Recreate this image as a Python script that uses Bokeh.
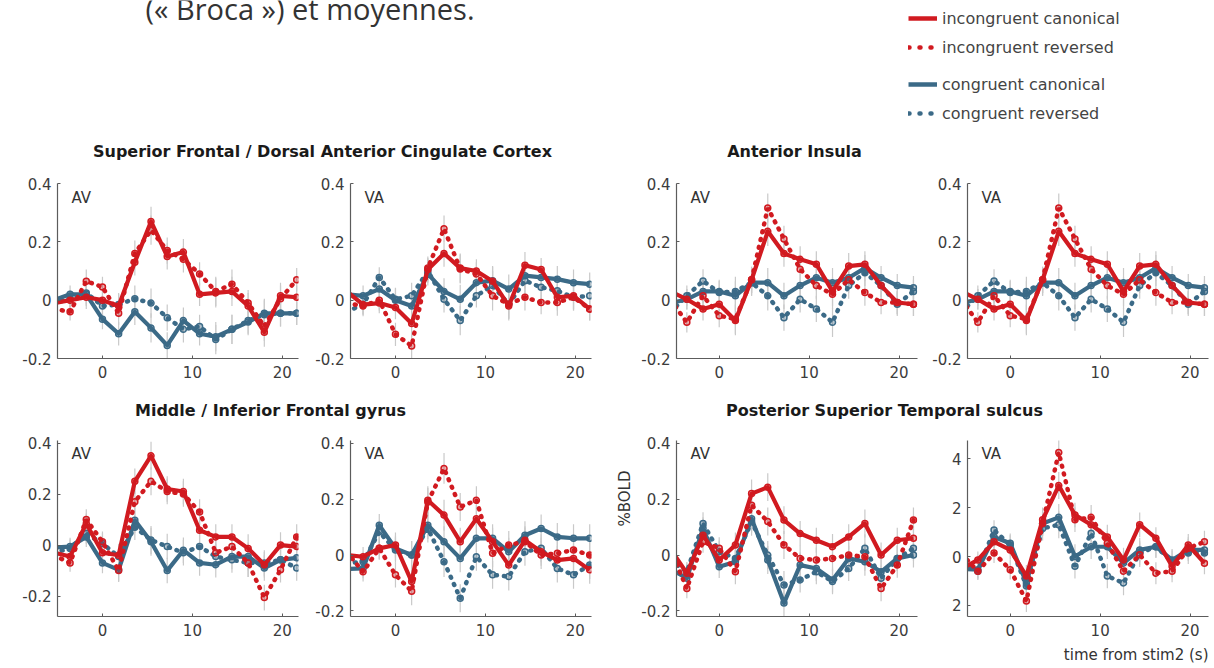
import math
from bokeh.plotting import figure
from bokeh.layouts import column, row
from bokeh.models import Range1d, FixedTicker, Label, Legend, LegendItem, Title
from bokeh.embed import file_html
from bokeh.resources import INLINE
from bokeh.core.properties import value

# ---------------- data ----------------
time_s = [-5.4, -3.6, -1.8, 0.0, 1.8, 3.6, 5.4, 7.2, 9.0, 10.8, 12.6, 14.4, 16.2, 18.0, 19.8, 21.6]
series_names = ["incongruent canonical", "incongruent reversed", "congruent canonical", "congruent reversed"]
region_titles = ["Superior Frontal / Dorsal Anterior Cingulate Cortex", "Anterior Insula",
                 "Middle / Inferior Frontal gyrus", "Posterior Superior Temporal sulcus"]
conditions = ["AV", "VA"]
x_ticks = [0, 10, 20]
y_ticks_small = [-0.2, 0, 0.2, 0.4]
y_tick_text_small = ["-0.2", "0", "0.2", "0.4"]
y_ticks_big = [-2, 0, 2, 4]
y_tick_text_big = ["2", "0", "2", "4"]

# Superior Frontal / dACC
sf_av_inc_can = [-0.01, 0.00, 0.01, 0.00, -0.02, 0.13, 0.27, 0.15, 0.165, 0.02, 0.025, 0.03, -0.02, -0.11, 0.015, 0.01]
sf_av_inc_rev = [-0.03, -0.04, 0.065, 0.045, -0.045, 0.16, 0.24, 0.17, 0.14, 0.09, 0.03, 0.055, -0.01, -0.09, 0.005, 0.07]
sf_av_con_can = [0.00, 0.02, 0.02, -0.065, -0.115, -0.04, -0.095, -0.155, -0.07, -0.115, -0.125, -0.10, -0.075, -0.045, -0.045, -0.045]
sf_av_con_rev = [-0.01, 0.005, 0.025, -0.02, -0.015, 0.005, -0.01, -0.06, -0.10, -0.09, -0.135, -0.10, -0.07, -0.05, -0.045, -0.045]
sf_av_err = [0.03, 0.03, 0.04, 0.035, 0.04, 0.045, 0.05, 0.045, 0.045, 0.04, 0.05, 0.05, 0.045, 0.05, 0.045, 0.04]

sf_va_inc_can = [0.03, -0.015, -0.01, -0.025, -0.08, 0.105, 0.16, 0.11, 0.10, 0.065, -0.02, 0.12, 0.105, 0.01, 0.015, -0.03]
sf_va_inc_rev = [-0.01, -0.02, 0.00, -0.117, -0.157, 0.11, 0.245, 0.107, 0.09, 0.015, -0.014, 0.01, -0.008, -0.008, 0.01, -0.03]
sf_va_con_can = [0.02, 0.015, 0.038, 0.0, -0.02, 0.09, 0.03, 0.003, 0.06, 0.067, 0.038, 0.084, 0.078, 0.072, 0.06, 0.055]
sf_va_con_rev = [-0.04, -0.014, 0.078, 0.003, 0.015, 0.10, 0.003, -0.07, 0.015, 0.05, -0.014, 0.067, 0.044, 0.032, 0.01, 0.015]
sf_va_err = [0.03, 0.035, 0.035, 0.04, 0.045, 0.04, 0.045, 0.05, 0.04, 0.05, 0.05, 0.045, 0.04, 0.045, 0.045, 0.04]

# Anterior Insula
ai_av_inc_can = [0.03, 0.003, -0.03, -0.014, -0.07, 0.07, 0.236, 0.16, 0.14, 0.123, 0.03, 0.117, 0.123, 0.05, -0.008, -0.014]
ai_av_inc_rev = [0.0, -0.076, 0.015, -0.053, -0.065, 0.07, 0.316, 0.21, 0.106, 0.05, 0.02, 0.07, 0.026, -0.008, -0.008, -0.014]
ai_av_con_can = [-0.01, 0.003, 0.03, 0.03, 0.015, 0.06, 0.06, 0.015, 0.05, 0.077, 0.06, 0.077, 0.11, 0.077, 0.05, 0.043]
ai_av_con_rev = [-0.04, 0.015, 0.066, 0.026, 0.03, 0.06, 0.015, -0.06, 0.003, -0.03, -0.076, 0.05, 0.094, 0.05, -0.014, 0.03]
ai_av_err = [0.03, 0.035, 0.04, 0.04, 0.05, 0.045, 0.05, 0.045, 0.045, 0.045, 0.05, 0.045, 0.045, 0.04, 0.04, 0.04]

ai_va_inc_can = [0.03, 0.003, -0.03, -0.014, -0.07, 0.07, 0.236, 0.16, 0.14, 0.123, 0.03, 0.117, 0.123, 0.05, -0.008, -0.014]
ai_va_inc_rev = [0.0, -0.076, 0.015, -0.053, -0.065, 0.07, 0.316, 0.21, 0.106, 0.05, 0.02, 0.07, 0.026, -0.008, -0.008, -0.014]
ai_va_con_can = [-0.01, 0.003, 0.03, 0.03, 0.015, 0.06, 0.06, 0.015, 0.05, 0.077, 0.06, 0.077, 0.11, 0.077, 0.05, 0.043]
ai_va_con_rev = [-0.04, 0.015, 0.066, 0.026, 0.03, 0.06, 0.015, -0.06, 0.003, -0.03, -0.076, 0.05, 0.094, 0.05, -0.014, 0.03]
ai_va_err = [0.03, 0.035, 0.04, 0.04, 0.05, 0.045, 0.05, 0.045, 0.045, 0.045, 0.05, 0.045, 0.045, 0.04, 0.04, 0.04]

# Middle / Inferior Frontal gyrus
mif_av_inc_can = [-0.03, -0.045, 0.084, -0.03, -0.04, 0.25, 0.35, 0.22, 0.21, 0.058, 0.032, 0.032, -0.013, -0.077, 0.0, -0.006]
mif_av_inc_rev = [-0.04, -0.07, 0.10, 0.013, -0.10, 0.17, 0.25, 0.21, 0.20, 0.13, -0.03, -0.006, -0.07, -0.206, -0.097, 0.032]
mif_av_con_can = [-0.01, -0.006, 0.032, -0.07, -0.097, 0.097, 0.013, -0.10, -0.02, -0.07, -0.077, -0.045, -0.045, -0.09, -0.058, -0.05]
mif_av_con_rev = [-0.03, -0.013, 0.045, 0.006, -0.045, 0.07, 0.02, -0.006, -0.03, -0.006, -0.045, -0.058, -0.07, -0.07, -0.058, -0.09]
mif_av_err = [0.03, 0.035, 0.04, 0.04, 0.045, 0.05, 0.055, 0.05, 0.05, 0.05, 0.05, 0.05, 0.055, 0.05, 0.05, 0.05]

mif_va_inc_can = [0.0, -0.006, 0.024, 0.036, -0.095, 0.196, 0.143, 0.048, 0.13, 0.048, -0.036, 0.053, 0.012, -0.018, -0.012, -0.053]
mif_va_inc_rev = [0.01, -0.06, 0.024, -0.071, -0.13, 0.19, 0.31, 0.172, 0.196, 0.006, 0.036, 0.048, 0.0, 0.006, 0.018, 0.0]
mif_va_con_can = [-0.05, -0.048, 0.107, 0.024, 0.0, 0.107, 0.048, -0.012, 0.06, 0.06, 0.012, 0.071, 0.095, 0.065, 0.06, 0.06]
mif_va_con_rev = [-0.03, -0.024, 0.083, 0.018, 0.0, 0.095, -0.024, -0.155, -0.006, -0.071, -0.077, 0.012, 0.024, -0.048, -0.071, -0.036]
mif_va_err = [0.03, 0.035, 0.04, 0.045, 0.05, 0.05, 0.055, 0.05, 0.05, 0.05, 0.05, 0.05, 0.05, 0.05, 0.05, 0.05]

# Posterior Superior Temporal sulcus
psts_av_inc_can = [0.02, -0.065, 0.071, -0.018, 0.036, 0.22, 0.243, 0.125, 0.077, 0.053, 0.03, 0.065, 0.113, 0.0, 0.053, 0.06]
psts_av_inc_rev = [0.02, -0.12, 0.048, 0.024, -0.06, 0.178, 0.12, 0.036, -0.012, -0.018, -0.012, 0.0, -0.006, -0.12, -0.036, 0.125]
psts_av_con_can = [-0.05, -0.083, 0.095, -0.042, -0.024, 0.13, -0.018, -0.172, -0.036, -0.048, -0.089, -0.012, -0.024, -0.06, -0.012, 0.0]
psts_av_con_rev = [-0.02, -0.06, 0.113, 0.012, -0.012, 0.119, 0.0, -0.107, -0.089, -0.06, -0.095, -0.048, 0.024, -0.083, -0.012, 0.024]
psts_av_err = [0.03, 0.035, 0.04, 0.04, 0.045, 0.05, 0.05, 0.05, 0.045, 0.045, 0.045, 0.045, 0.05, 0.045, 0.045, 0.045]

psts_va_inc_can = [-0.5, -0.14, 0.6, 0.27, -0.8, 1.5, 2.9, 1.7, 1.3, 0.8, -0.14, 1.3, 0.75, -0.4, 0.47, -0.27]
psts_va_inc_rev = [0.1, -0.6, 0.14, -0.54, -1.82, 1.35, 4.25, 1.5, 1.6, 0.54, -0.6, 0.07, -0.68, -0.6, 0.34, 0.6]
psts_va_con_can = [-0.5, -0.54, 0.8, 0.54, -1.08, 1.35, 1.6, 0.0, 0.4, 0.4, -0.27, 0.27, 0.4, -0.14, 0.27, 0.27]
psts_va_con_rev = [-0.3, -0.6, 1.08, 0.47, -1.2, 1.15, 1.3, -0.4, 0.95, -0.8, -1.08, 0.14, 0.4, -0.2, 0.14, 0.14]
psts_va_err = [0.3, 0.35, 0.4, 0.4, 0.45, 0.5, 0.55, 0.5, 0.5, 0.5, 0.5, 0.5, 0.45, 0.45, 0.45, 0.45]

# ---------------- style ----------------
RED = "#d11a20"
BLUE = "#3b6a87"
ERR = "#c9c9c9"
AXIS = "#5c5c5c"
FONT = "DejaVu Sans"
DOT = "1 7"

COLS = [
    dict(w=305, bl=57, br=7, xr=(-5.0, 21.8)),
    dict(w=295, bl=45, br=9, xr=(-5.0, 21.8)),
    dict(w=318, bl=76, br=1, xr=(-4.75, 22.05)),
    dict(w=296, bl=49, br=6, xr=(-4.75, 22.05)),
]
ROWS = [dict(h=230, bt=18, bb=37), dict(h=238, bt=10, bb=51)]


def make_panel(col, rw, y_rng, y_ticks, y_text, cond, inc_can, inc_rev, con_can, con_rev, err):
    c, r = COLS[col], ROWS[rw]
    fw = c["w"] - c["bl"] - c["br"]
    fh = r["h"] - r["bt"] - r["bb"]
    p = figure(width=c["w"], height=r["h"], x_range=Range1d(*c["xr"]), y_range=Range1d(*y_rng),
               output_backend="svg", toolbar_location=None,
               min_border_left=c["bl"], min_border_right=c["br"],
               min_border_top=r["bt"], min_border_bottom=r["bb"])
    p.outline_line_color = None
    p.grid.visible = False
    for ax in (p.xaxis[0], p.yaxis[0]):
        ax.axis_line_color = AXIS
        ax.axis_line_width = 1.2
        ax.major_tick_line_color = AXIS
        ax.major_tick_in = 3
        ax.major_tick_out = 0
        ax.minor_tick_line_color = None
        ax.major_label_text_font = FONT
        ax.major_label_text_font_size = "15px"
        ax.major_label_text_color = "#3c3c3c"
    p.xaxis[0].ticker = FixedTicker(ticks=x_ticks)
    p.xaxis[0].major_label_standoff = 7
    p.yaxis[0].ticker = FixedTicker(ticks=y_ticks)
    p.yaxis[0].major_label_overrides = {t: s for t, s in zip(y_ticks, y_text)}
    p.yaxis[0].major_label_standoff = 6

    series = [(con_can, BLUE, False), (con_rev, BLUE, True), (inc_rev, RED, True), (inc_can, RED, False)]
    for vals, _, _ in series:
        p.segment(x0=time_s, y0=[v - e for v, e in zip(vals, err)],
                  x1=time_s, y1=[v + e for v, e in zip(vals, err)],
                  line_color=ERR, line_width=1.2)
    for vals, color, dotted in series:
        if dotted:
            p.line(time_s, vals, line_color=color, line_width=4.5, line_dash=DOT, line_cap="round")
        else:
            p.line(time_s, vals, line_color=color, line_width=4.2, line_join="round")
        p.scatter(time_s, vals, marker="circle", size=6, line_color=color, line_width=1.5,
                  fill_color=color, fill_alpha=0.35)

    xs = c["xr"][1] - c["xr"][0]
    ys = y_rng[1] - y_rng[0]
    p.add_layout(Label(x=c["xr"][0] + 14 * xs / fw, y=y_rng[1] - 14 * ys / fh, text=cond,
                       text_font=FONT, text_font_size="15px", text_color="#333333",
                       text_baseline="middle", text_align="left"))
    return p


p1 = make_panel(0, 0, (-0.2, 0.4), y_ticks_small, y_tick_text_small, conditions[0],
                sf_av_inc_can, sf_av_inc_rev, sf_av_con_can, sf_av_con_rev, sf_av_err)
p2 = make_panel(1, 0, (-0.2, 0.4), y_ticks_small, y_tick_text_small, conditions[1],
                sf_va_inc_can, sf_va_inc_rev, sf_va_con_can, sf_va_con_rev, sf_va_err)
p3 = make_panel(2, 0, (-0.2, 0.4), y_ticks_small, y_tick_text_small, conditions[0],
                ai_av_inc_can, ai_av_inc_rev, ai_av_con_can, ai_av_con_rev, ai_av_err)
p4 = make_panel(3, 0, (-0.2, 0.4), y_ticks_small, y_tick_text_small, conditions[1],
                ai_va_inc_can, ai_va_inc_rev, ai_va_con_can, ai_va_con_rev, ai_va_err)
p5 = make_panel(0, 1, (-0.28, 0.41), y_ticks_small, y_tick_text_small, conditions[0],
                mif_av_inc_can, mif_av_inc_rev, mif_av_con_can, mif_av_con_rev, mif_av_err)
p6 = make_panel(1, 1, (-0.22, 0.41), y_ticks_small, y_tick_text_small, conditions[1],
                mif_va_inc_can, mif_va_inc_rev, mif_va_con_can, mif_va_con_rev, mif_va_err)
p7 = make_panel(2, 1, (-0.22, 0.41), y_ticks_small, y_tick_text_small, conditions[0],
                psts_av_inc_can, psts_av_inc_rev, psts_av_con_can, psts_av_con_rev, psts_av_err)
p8 = make_panel(3, 1, (-2.45, 4.74), y_ticks_big, y_tick_text_big, conditions[1],
                psts_va_inc_can, psts_va_inc_rev, psts_va_con_can, psts_va_con_rev, psts_va_err)

# axis titles as side titles (kept outside the frame)
p7.add_layout(Title(text="%BOLD", align="right", offset=30, text_font=FONT, text_font_size="15px",
                    text_font_style="normal", text_color="#333333"), "left")
p8.add_layout(Title(text="time from stim2 (s)", align="right", text_font=FONT, text_font_size="15px",
                    text_font_style="normal", text_color="#333333"), "below")

# ---------------- header (slide text, titles, legend) ----------------
head = figure(width=1214, height=165, x_range=Range1d(0, 1214), y_range=Range1d(165, 0),
              output_backend="svg", toolbar_location=None, min_border=0,
              x_axis_location=None, y_axis_location=None)
head.outline_line_color = None
head.grid.visible = False
head.text(x=[145], y=[8], text=["(« Broca ») et moyennes."], text_font=value("Open Sans"),
          text_font_size="29px", text_color="#333333", text_align="left", text_baseline="alphabetic")
head.text(x=[322, 794], y=[151, 151], text=region_titles[:2], text_font=value(FONT),
          text_font_size="16px", text_font_style="bold", text_color="#1a1a1a",
          text_align="center", text_baseline="middle")

# legend-only renderers (their points sit outside the visible header range)
off_x = [-50, -40]
off_y = [-50, -50]
lr = [head.line(x=off_x, y=off_y, line_color=RED, line_width=4.5),
      head.line(x=off_x, y=off_y, line_color=RED, line_width=4.5, line_dash="1 10", line_cap="round"),
      head.line(x=off_x, y=off_y, line_color=BLUE, line_width=4.5),
      head.line(x=off_x, y=off_y, line_color=BLUE, line_width=4.5, line_dash="1 10", line_cap="round")]


def mk_legend(items, loc):
    return Legend(items=items, location=loc, padding=0, margin=0, spacing=9,
                  glyph_width=29, glyph_height=20, label_height=20, label_standoff=5,
                  label_text_font=FONT, label_text_font_size="16px", label_text_color="#444444",
                  border_line_alpha=0, background_fill_alpha=0)


head.add_layout(mk_legend([LegendItem(label=series_names[0], renderers=[lr[0]]),
                           LegendItem(label=series_names[1], renderers=[lr[1]])], (908, 108)))
head.add_layout(mk_legend([LegendItem(label=series_names[2], renderers=[lr[2]]),
                           LegendItem(label=series_names[3], renderers=[lr[3]])], (908, 42)))

strip = figure(width=1214, height=35, x_range=Range1d(0, 1214), y_range=Range1d(35, 0),
               output_backend="svg", toolbar_location=None, min_border=0,
               x_axis_location=None, y_axis_location=None)
strip.outline_line_color = None
strip.grid.visible = False
strip.text(x=[270, 884], y=[15, 15], text=region_titles[2:], text_font=value(FONT),
           text_font_size="16px", text_font_style="bold", text_color="#1a1a1a",
           text_align="center", text_baseline="middle")

layout = column(head, row(p1, p2, p3, p4), strip, row(p5, p6, p7, p8))

with open("out.html", "w") as f:
    f.write(file_html(layout, INLINE, title="BOLD time courses"))
